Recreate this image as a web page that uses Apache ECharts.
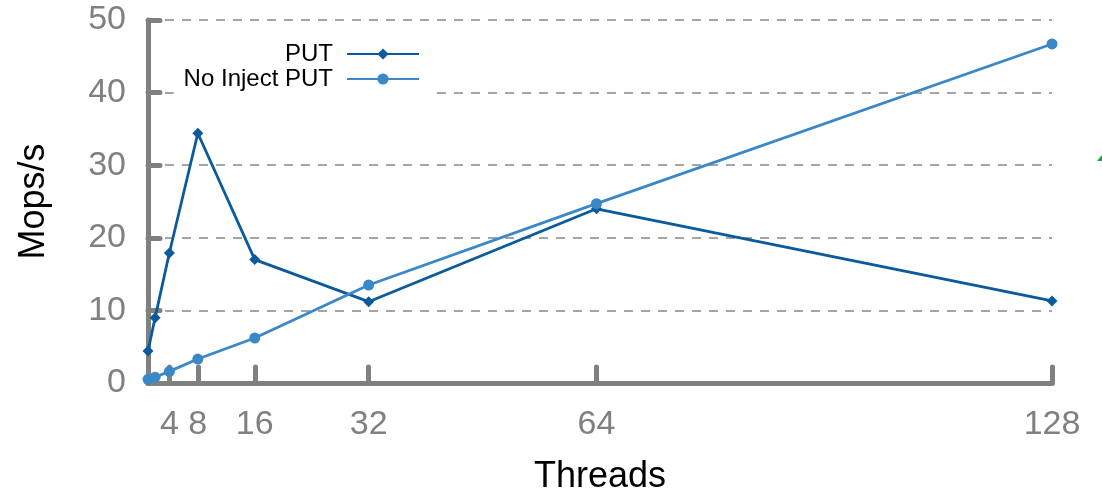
<!DOCTYPE html>
<html><head><meta charset="utf-8">
<script src="https://cdn.jsdelivr.net/npm/echarts@6/dist/echarts.min.js"></script>
<style>html,body{margin:0;padding:0;background:#fff}#c{width:1102px;height:495px}</style>
</head><body><div id="c"></div>
<script>
const threads = [1, 2, 4, 8, 16, 32, 64, 128];
const putValues = [4.4, 9.0, 17.9, 34.4, 17.0, 11.2, 24.0, 11.3];
const noInjectValues = [0.5, 0.8, 1.6, 3.3, 6.2, 13.5, 24.7, 46.7];
const xTickLabels = [4, 8, 16, 32, 64, 128];
const seriesNames = ['PUT', 'No Inject PUT'];

const font = "'Liberation Sans', Arial, Helvetica, sans-serif";
const axisGray = '#808080';
const chart = echarts.init(document.getElementById('c'));
chart.setOption({
  animation: false,
  textStyle: { fontFamily: font },
  grid: { left: 148, right: 50, top: 20, bottom: 112, containLabel: false, outerBoundsMode: 'none' },
  legend: {
    orient: 'vertical', align: 'right',
    right: 670, top: 34,
    padding: [8, 12, 8, 10],
    backgroundColor: '#fff',
    itemWidth: 72, itemHeight: 14, itemGap: 1,
    textStyle: { fontSize: 24, color: '#000', fontFamily: font, padding: [0, 9, 0, 0] },
    data: seriesNames
  },
  graphic: [{
    type: 'polygon', silent: true,
    shape: { points: [[1097, 161], [1102, 155], [1102, 161]] },
    style: { fill: '#1aa050' }
  }],
  xAxis: {
    type: 'value', min: 1, max: 128,
    name: 'Threads', nameLocation: 'middle', nameGap: 76,
    nameTextStyle: { fontSize: 36, color: '#000', fontFamily: font, verticalAlign: 'top' },
    axisLine: { show: true, lineStyle: { color: axisGray, width: 5, cap: 'round' } },
    axisTick: { show: true, inside: true, length: 16, customValues: xTickLabels,
      lineStyle: { color: axisGray, width: 5, cap: 'round' } },
    axisLabel: { customValues: xTickLabels, margin: 25, fontSize: 34, color: axisGray, fontFamily: font },
    splitLine: { show: false }
  },
  yAxis: {
    type: 'value', min: 0, max: 50, interval: 10,
    name: 'Mops/s', nameLocation: 'middle', nameGap: 96, nameRotate: 90,
    nameTextStyle: { fontSize: 36, color: '#000', fontFamily: font },
    axisLine: { show: true, lineStyle: { color: axisGray, width: 5, cap: 'round' } },
    axisTick: { show: true, inside: true, length: 12, lineStyle: { color: axisGray, width: 5, cap: 'round' } },
    axisLabel: { margin: 22, fontSize: 34, color: axisGray, fontFamily: font },
    splitLine: { show: true, lineStyle: { color: '#888', width: 1.5, type: [9, 8] } }
  },
  series: [
    {
      name: seriesNames[0], type: 'line',
      data: threads.map((t, i) => [t, putValues[i]]),
      symbol: 'diamond', symbolSize: 11,
      itemStyle: { color: '#0b5a9b' },
      lineStyle: { color: '#0b5a9b', width: 2.8 },
      z: 3
    },
    {
      name: seriesNames[1], type: 'line',
      data: threads.map((t, i) => [t, noInjectValues[i]]),
      symbol: 'circle', symbolSize: 11,
      itemStyle: { color: '#3a88c8' },
      lineStyle: { color: '#3a88c8', width: 2.8 },
      z: 4
    }
  ]
});
</script></body></html>
